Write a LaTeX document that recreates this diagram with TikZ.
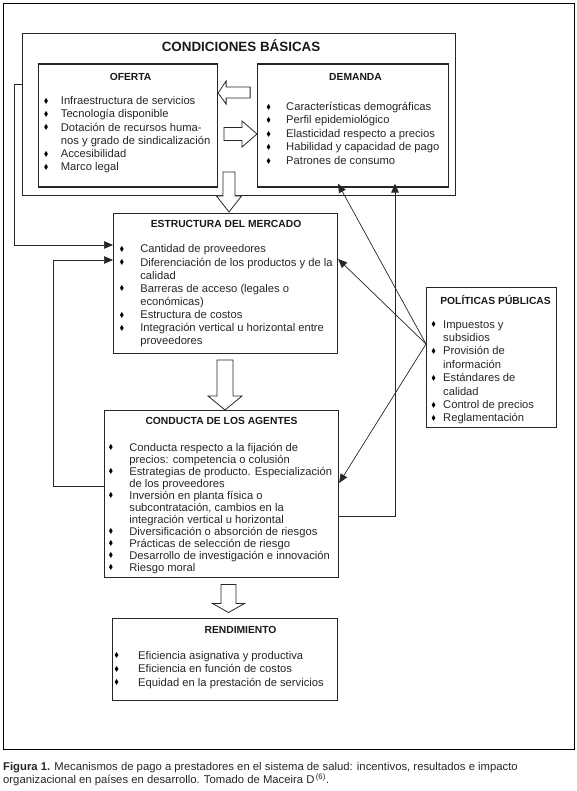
\documentclass[tikz,border=0pt]{standalone}
\usepackage{fontspec}
\setmainfont{Liberation Sans}
\newfontfamily\simbolos{DejaVu Sans}
\usetikzlibrary{arrows.meta,calc}

\newcommand{\bul}{\makebox[0pt]{\raisebox{0.3pt}{\scalebox{0.8}[1]{\color{black}\simbolos\fontsize{8.5}{8.5}\selectfont ♦}}}}
\newcommand{\lista}[2]{\begin{tabular}[t]{@{}p{#1}@{}l@{}}#2\end{tabular}}

\tikzset{
	caja/.style={draw=black!85, line width=1.1pt, anchor=north west, inner sep=0},
	titulo/.style={anchor=base, inner sep=0, text=black!90, font=\bfseries\fontsize{10.3}{12}\selectfont},
	items/.style={anchor=base west, inner sep=0, text=black!85, font=\fontsize{11.2}{#1}\selectfont},
	linea/.style={draw=black!85, line width=0.7pt},
	flecha/.style={linea, -{Triangle[length=9pt,width=7.5pt]}},
	bloque/.style={draw=black!85, line width=0.8pt, fill=white, line join=miter},
	pie/.style={anchor=base west, inner sep=0, text=black!85, font=\fontsize{11.3}{13}\selectfont},
}

\begin{document}
\begin{tikzpicture}[x=1pt, y=-1pt]
\useasboundingbox (0,0) rectangle (577,791);

% marco exterior
\node[caja, draw=black, line width=1pt, minimum width=571pt, minimum height=746pt] (marco) at (3,3) {};

% condiciones basicas
\node[caja, minimum width=433pt, minimum height=162pt] (basicas) at (22,33) {};
\node[titulo, font=\bfseries\fontsize{13.4}{16}\selectfont] (t-basicas) at ($(basicas.north)+(2,19)$) {CONDICIONES BÁSICAS};

\node[caja, minimum width=179pt, minimum height=123pt] (oferta) at (38,63.5) {};
\node[titulo] (t-oferta) at ($(oferta.north)+(2.5,17)$) {OFERTA};
\node[items=13.3] (i-oferta) at ($(oferta.north west)+(8,41)$) {\lista{14.7pt}{
	\bul & Infraestructura de servicios\\
	\bul & Tecnología disponible\\
	\bul & Dotación de recursos huma-\\
	& nos y grado de sindicalización\\
	\bul & Accesibilidad\\
	\bul & Marco legal}};

\node[caja, minimum width=191pt, minimum height=123pt] (demanda) at (257,63.5) {};
\node[titulo] (t-demanda) at ($(demanda.north)+(2.5,17)$) {DEMANDA};
\node[items=13.5] (i-demanda) at ($(demanda.north west)+(11.5,47)$) {\lista{17.5pt}{
	\bul & Características demográficas\\
	\bul & Perfil epidemiológico\\
	\bul & Elasticidad respecto a precios\\
	\bul & Habilidad y capacidad de pago\\
	\bul & Patrones de consumo}};

% estructura
\node[caja, minimum width=224pt, minimum height=140pt] (estructura) at (113,213) {};
\node[titulo] (t-estructura) at ($(estructura.north)+(0.5,15)$) {ESTRUCTURA DEL MERCADO};
\node[items=13.1] (i-estructura) at ($(estructura.north west)+(8.8,40)$) {\lista{18.3pt}{
	\bul & Cantidad de proveedores\\
	\bul & Diferenciación de los productos y de la\\
	& calidad\\
	\bul & Barreras de acceso (legales o\\
	& económicas)\\
	\bul & Estructura de costos\\
	\bul & Integración vertical u horizontal entre\\
	& proveedores}};

% conducta
\node[caja, minimum width=234pt, minimum height=167pt] (conducta) at (104,410) {};
\node[titulo] (t-conducta) at ($(conducta.north)+(0,14.5)$) {CONDUCTA DE LOS AGENTES};
\node[items=12] (i-conducta) at ($(conducta.north west)+(6.7,41)$) {\lista{18.5pt}{
	\bul & Conducta respecto a la fijación de\\
	& precios: competencia o colusión\\
	\bul & Estrategias de producto. Especialización\\
	& de los proveedores\\
	\bul & Inversión en planta física o\\
	& subcontratación, cambios en la\\
	& integración vertical u horizontal\\
	\bul & Diversificación o absorción de riesgos\\
	\bul & Prácticas de selección de riesgo\\
	\bul & Desarrollo de investigación e innovación\\
	\bul & Riesgo moral}};

% rendimiento
\node[caja, minimum width=225pt, minimum height=82pt] (rendimiento) at (112,617.5) {};
\node[titulo] (t-rendimiento) at ($(rendimiento.north)+(15.5,15.5)$) {RENDIMIENTO};
\node[items=13.5] (i-rendimiento) at ($(rendimiento.north west)+(4.5,41.5)$) {\lista{21.5pt}{
	\bul & Eficiencia asignativa y productiva\\
	\bul & Eficiencia en función de costos\\
	\bul & Equidad en la prestación de servicios}};

% politicas publicas
\node[caja, minimum width=130pt, minimum height=140pt] (politicas) at (426,287) {};
\node[titulo] (t-politicas) at ($(politicas.north)+(4,17)$) {POLÍTICAS PÚBLICAS};
\node[items=13.4] (i-politicas) at ($(politicas.north west)+(7.5,41)$) {\lista{9.5pt}{
	\bul & Impuestos y\\
	& subsidios\\
	\bul & Provisión de\\
	& información\\
	\bul & Estándares de\\
	& calidad\\
	\bul & Control de precios\\
	\bul & Reglamentación}};

% flechas huecas
\draw[bloque] ($(oferta.north east)+(0,29.5)$) -- ++(8,-12) -- ++(0,6) -- ++(24,0) -- ++(0,11) -- ++(-24,0) -- ++(0,6) -- cycle;
\draw[bloque] ($(demanda.north west)+(0,70.5)$) -- ++(-15,-13) -- ++(0,6.5) -- ++(-18,0) -- ++(0,13) -- ++(18,0) -- ++(0,6.5) -- cycle;
\draw[bloque] ($(estructura.north west)+(116,-1)$) -- ++(-12.5,-16) -- ++(6.5,0) -- ++(0,-24) -- ++(12,0) -- ++(0,24) -- ++(6.5,0) -- cycle;
\draw[bloque] ($(conducta.north west)+(121,0)$) -- ++(-17,-14) -- ++(9,0) -- ++(0,-36) -- ++(16,0) -- ++(0,36) -- ++(9,0) -- cycle;
\draw[bloque] ($(rendimiento.north west)+(116.5,-5)$) -- ++(-16,-9) -- ++(8.5,0) -- ++(0,-19) -- ++(15,0) -- ++(0,19) -- ++(8.5,0) -- cycle;

% retroalimentaciones
\draw[flecha] ($(basicas.north west)+(0,51)$) -- ++(-8,0) |- ($(estructura.north west)+(0,32)$);
\draw[flecha] ($(conducta.north west)+(0,76)$) -| ($(estructura.north west)+(-60,47)$) -- ($(estructura.north west)+(0,47)$);
\draw[flecha] ($(conducta.north east)+(0,106)$) -| ($(demanda.south west)+(138,-4)$);

% politicas publicas
\coordinate (pp) at ($(politicas.north west)+(0,57)$);
\draw[flecha] (pp) -- ($(demanda.south west)+(81,-4)$);
\draw[flecha] (pp) -- ($(estructura.north east)+(0,46)$);
\draw[flecha] (pp) -- ($(conducta.north east)+(0,73)$);

% pie de figura
\node[pie] (pie1) at (3,770) {\textbf{Figura 1.} Mecanismos de pago a prestadores en el sistema de salud: incentivos, resultados e impacto};
\node[pie] (pie2) at (3,783.5) {organizacional en países en desarrollo. Tomado de Maceira D\textsuperscript{\,(6)}.};
\end{tikzpicture}
\end{document}
